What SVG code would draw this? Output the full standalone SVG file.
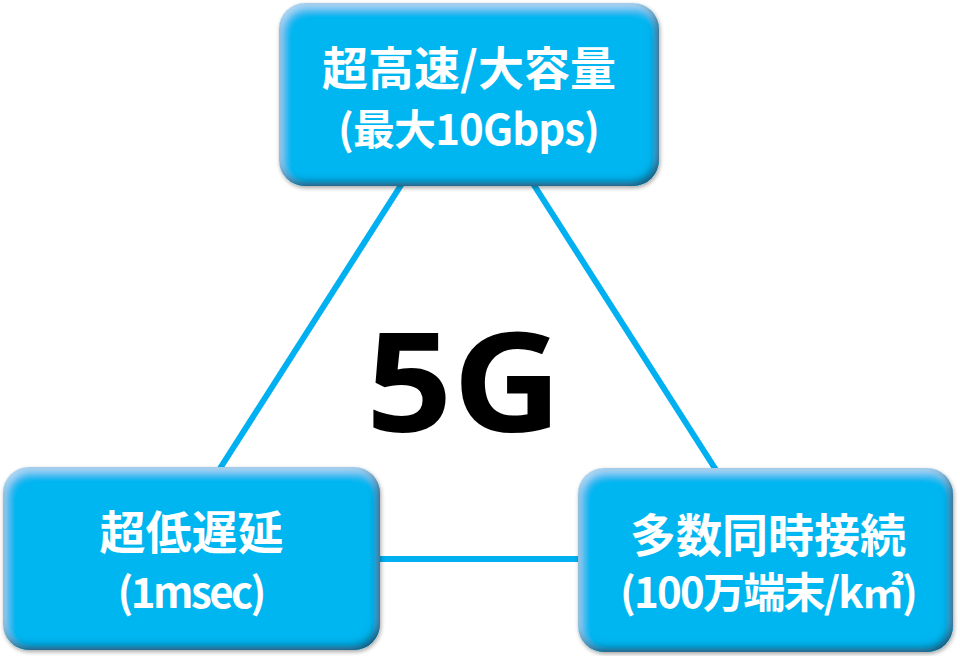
<svg xmlns="http://www.w3.org/2000/svg" width="960" height="656" viewBox="0 0 960 656">
  <defs>
    <filter id="bevel" x="-5%" y="-8%" width="112%" height="120%">
      <feGaussianBlur in="SourceAlpha" stdDeviation="4" result="b"/>
      <feOffset in="b" dx="-3" dy="-4" result="o1"/>
      <feComposite in="SourceAlpha" in2="o1" operator="arithmetic" k2="1" k3="-1" result="edge1"/>
      <feFlood flood-color="#003553" flood-opacity="0.95"/>
      <feComposite in2="edge1" operator="in" result="dark"/>
      <feOffset in="b" dx="2" dy="4" result="o2"/>
      <feComposite in="SourceAlpha" in2="o2" operator="arithmetic" k2="1" k3="-1" result="edge2"/>
      <feFlood flood-color="#ffffff" flood-opacity="0.55"/>
      <feComposite in2="edge2" operator="in" result="light"/>
      <feGaussianBlur in="SourceAlpha" stdDeviation="2" result="sb"/>
      <feOffset in="sb" dx="1" dy="2" result="ds"/>
      <feFlood flood-color="#000000" flood-opacity="0.35"/>
      <feComposite in2="ds" operator="in" result="shadow"/>
      <feMerge>
        <feMergeNode in="shadow"/>
        <feMergeNode in="SourceGraphic"/>
        <feMergeNode in="light"/>
        <feMergeNode in="dark"/>
      </feMerge>
    </filter>
  </defs>
  <style>
    .box { fill: #00B6F0; filter: url(#bevel); }
    .lbl { fill: #ffffff; font-family: "Noto Sans CJK JP", "Noto Sans", sans-serif; font-weight: bold; text-anchor: middle; dominant-baseline: central; }
    .l1 { font-size: 46px; }
    .l2 { font-size: 42px; }
    .conn { stroke: #00B0F0; stroke-width: 6; fill: none; }
    .big { fill: #000000; font-family: "Noto Sans", "Open Sans", sans-serif; font-weight: bold; font-size: 138px; }
  </style>
  <rect width="960" height="656" fill="#ffffff"/>
  <g id="connectors">
    <line class="conn" x1="403" y1="182" x2="219" y2="470"/>
    <line class="conn" x1="532" y1="182" x2="716" y2="470"/>
    <line class="conn" x1="375" y1="559" x2="583" y2="559"/>
  </g>
  <g id="center-label">
    <text class="big" x="366" y="432" textLength="196" lengthAdjust="spacingAndGlyphs">5G</text>
  </g>
  <g id="node-top">
    <rect class="box" x="279" y="3" width="380" height="183" rx="26" ry="26"/>
    <text class="lbl l1" x="469" y="65">超高速/大容量</text>
    <text class="lbl l2" x="469" y="126" textLength="262" lengthAdjust="spacing">(最大10Gbps)</text>
  </g>
  <g id="node-left">
    <rect class="box" x="3" y="467" width="377" height="183" rx="26" ry="26"/>
    <text class="lbl l1" x="191.5" y="529">超低遅延</text>
    <text class="lbl l2" x="192" y="589" textLength="149" lengthAdjust="spacing">(1msec)</text>
  </g>
  <g id="node-right">
    <rect class="box" x="578" y="468" width="375" height="184" rx="26" ry="26"/>
    <text class="lbl l1" x="768" y="532">多数同時接続</text>
    <text class="lbl l2" x="769" y="589" textLength="298" lengthAdjust="spacing">(100万端末/k㎡)</text>
  </g>
</svg>
